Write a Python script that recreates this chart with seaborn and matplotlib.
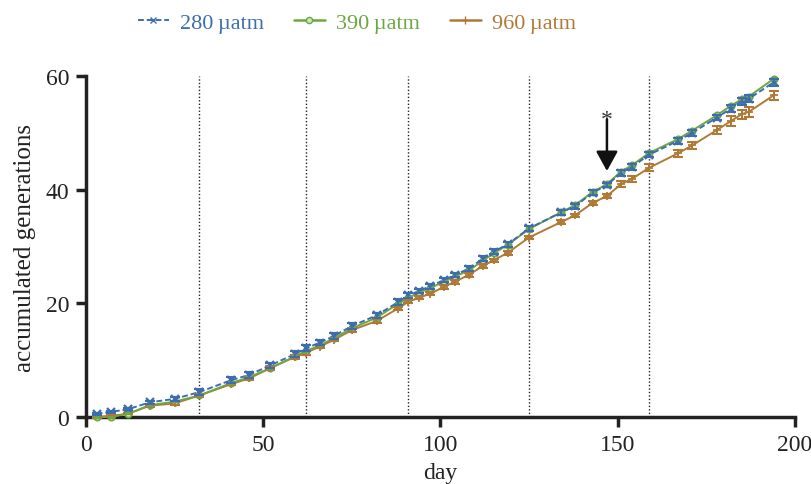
import numpy as np
import pandas as pd
import matplotlib
matplotlib.use("Agg")
import matplotlib.pyplot as plt
import seaborn as sns
from matplotlib.lines import Line2D

days = [3, 7, 12, 18, 25, 32, 41, 46, 52, 59, 62, 66, 70, 75, 82, 88, 91, 94, 97, 101,
        104, 108, 112, 115, 119, 125, 134, 138, 143, 147, 151, 154, 159, 167, 171, 178,
        182, 185, 187, 194]
gen_280 = [0.6, 0.9, 1.4, 2.6, 3.2, 4.4, 6.5, 7.4, 9.1, 11.1, 12.1, 13.1, 14.3, 16.0, 17.9,
           20.2, 21.4, 22.2, 23.0, 24.1, 25.0, 26.1, 27.9, 29.1, 30.4, 33.2, 36.0, 37.1,
           39.5, 40.8, 43.0, 44.0, 46.2, 48.6, 50.0, 52.7, 54.3, 55.6, 56.0, 58.9]
gen_390 = [0.0, 0.0, 0.6, 2.1, 2.7, 3.8, 6.0, 7.0, 8.6, 10.7, 11.6, 12.6, 13.9, 15.6, 17.5,
           19.9, 21.0, 21.9, 22.7, 23.8, 24.7, 25.8, 27.5, 28.8, 30.3, 33.1, 36.0, 37.3,
           39.6, 41.0, 43.2, 44.3, 46.5, 48.9, 50.4, 53.1, 54.8, 55.9, 56.4, 59.5]
gen_960 = [0.0, 0.2, 0.6, 2.0, 2.4, 3.8, 5.8, 6.8, 8.6, 10.6, 11.3, 12.4, 13.6, 15.3, 16.9,
           19.1, 20.3, 21.0, 21.7, 22.9, 23.8, 25.0, 26.6, 27.6, 28.9, 31.6, 34.3, 35.5,
           37.7, 38.9, 41.0, 41.9, 43.9, 46.4, 47.8, 50.5, 52.1, 53.3, 53.7, 56.6]
err_280 = [0.2, 0.2, 0.2, 0.3, 0.3, 0.5, 0.5, 0.5, 0.5, 0.5, 0.5, 0.5, 0.5, 0.5, 0.5,
           0.5, 0.5, 0.4, 0.4, 0.4, 0.4, 0.4, 0.4, 0.4, 0.4, 0.4, 0.4, 0.4,
           0.4, 0.4, 0.5, 0.5, 0.5, 0.5, 0.5, 0.5, 0.6, 0.6, 0.6, 0.6]
err_390 = [0.1] * 40
err_960 = [0.1, 0.1, 0.1, 0.2, 0.2, 0.2, 0.2, 0.2, 0.3, 0.3, 0.3, 0.3, 0.3, 0.3, 0.3,
           0.3, 0.3, 0.3, 0.3, 0.3, 0.3, 0.3, 0.3, 0.3, 0.3, 0.3, 0.3, 0.3,
           0.4, 0.4, 0.5, 0.6, 0.6, 0.6, 0.6, 0.7, 0.8, 0.8, 0.9, 0.8]
labels = ["280\u2009µatm", "390\u2009µatm", "960\u2009µatm"]
colors = ["#3d6db0", "#6aa842", "#b07a35"]
period_lines = [32, 62, 91, 125, 159]
arrow_day = 147
arrow_top = 52.4
arrow_bottom = 43.3
ticks_x = [0, 50, 100, 150, 200]
ticks_y = [0, 20, 40, 60]

series = {labels[0]: (gen_280, err_280), labels[1]: (gen_390, err_390),
          labels[2]: (gen_960, err_960)}

sns.set_theme(style="ticks")
plt.rcParams["font.family"] = ["Liberation Serif", "DejaVu Serif"]

fig = plt.figure(figsize=(8.11, 4.85), dpi=100)
ax = fig.add_axes([0.106, 0.138, 0.874, 0.703])

for d in period_lines:
    ax.axvline(d, color="#222222", lw=1.0, ls=(0, (1, 1.5)), zorder=1)

styles = {
    labels[0]: dict(marker="x", ls=(0, (3, 1.5)), markersize=6, mew=1.6, mfc=colors[0], cap=3.5),
    labels[1]: dict(marker="o", ls="-", markersize=4.5, mew=1.3, mfc="#cfe5b8", cap=2.5),
    labels[2]: dict(marker="+", ls="-", markersize=6, mew=1.3, mfc=colors[2], cap=3.5),
}
order = [labels[2], labels[1], labels[0]]
for lab in order:
    col = colors[labels.index(lab)]
    g, e = series[lab]
    sub = pd.DataFrame({"day": days, "gen": g, "err": e})
    st = styles[lab]
    sns.lineplot(data=sub, x="day", y="gen", color=col, lw=1.4, marker=st["marker"],
                 linestyle=st["ls"], markersize=st["markersize"], markeredgewidth=st["mew"],
                 markeredgecolor=col, markerfacecolor=st["mfc"], errorbar=None, ax=ax,
                 zorder=3, clip_on=False)
    ax.errorbar(sub.day, sub.gen, yerr=sub.err, fmt="none", ecolor=col, elinewidth=1.3,
                capsize=st["cap"], capthick=1.5, zorder=4, clip_on=False)

ax.set_xlim(0, 200)
ax.set_ylim(0, 60)
ax.set_xticks(ticks_x)
ax.set_yticks(ticks_y)
ax.tick_params(axis="both", direction="out", length=7, width=2.5, labelsize=17,
               color="#222222", labelcolor="#222222", pad=5)
for s in ["left", "bottom"]:
    ax.spines[s].set_linewidth(2.5)
    ax.spines[s].set_color("#222222")
sns.despine(ax=ax)
ax.set_xlabel("day", fontsize=17, color="#222222", labelpad=5)
ax.set_ylabel("accumulated generations", fontsize=18, color="#222222", labelpad=7)

ax.annotate("", xy=(arrow_day, arrow_bottom), xytext=(arrow_day, arrow_top),
            arrowprops=dict(arrowstyle="-|>,head_width=0.55,head_length=1.0",
                            color="#111111", lw=1.8, shrinkA=0, shrinkB=0), zorder=6)
ax.text(arrow_day, 51.4, "*", ha="center", va="baseline", fontsize=17,
        color="#333333")

handles = [
    Line2D([], [], color=colors[0], ls=(0, (3, 1.5)), marker="x", markersize=5, lw=1.4),
    Line2D([], [], color=colors[1], marker="o", markersize=4.5, lw=1.8,
           markerfacecolor="#cfe5b8"),
    Line2D([], [], color=colors[2], marker="+", markersize=6, lw=1.8),
]
leg = fig.legend(handles, labels, loc="center", bbox_to_anchor=(0.44, 0.951), ncol=3,
                 frameon=False, fontsize=16, handlelength=1.4, columnspacing=1.35,
                 handletextpad=0.5)
for t, c in zip(leg.get_texts(), colors):
    t.set_color(c)

fig.savefig("out.png", dpi=100)
